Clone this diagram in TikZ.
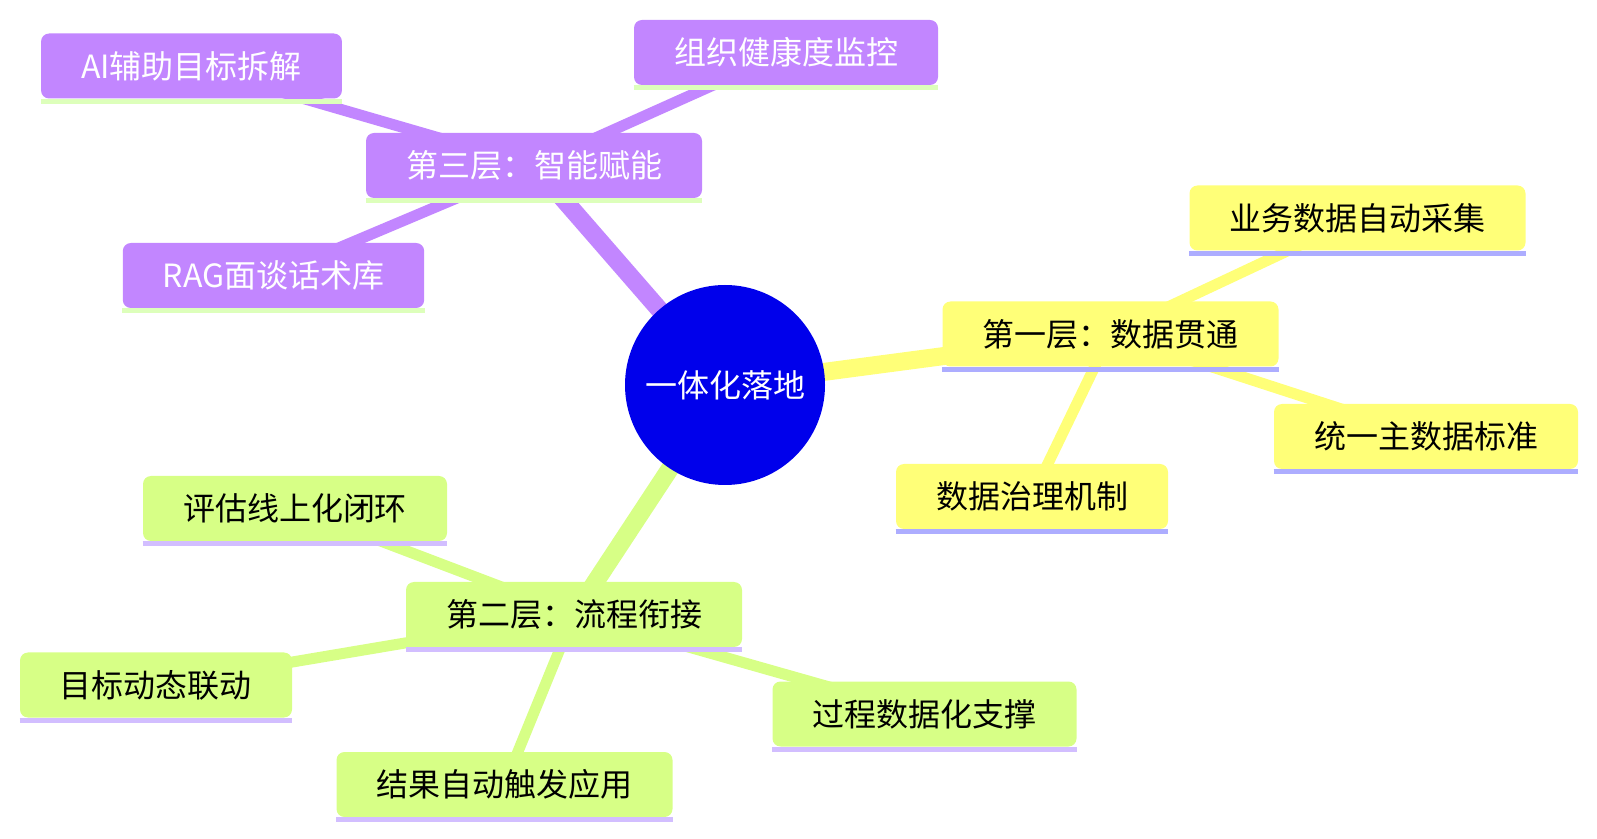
\documentclass[tikz,border=0pt]{standalone}
\usepackage{fontspec}
\newfontfamily\cjk{Noto Sans CJK SC}
\usepackage{xcolor}
\usetikzlibrary{backgrounds}

\definecolor{rootblue}{HTML}{0000EB}
\definecolor{secyellow}{HTML}{FFFF78}
\definecolor{secgreen}{HTML}{D7FF86}
\definecolor{secpurple}{HTML}{C286FF}
\definecolor{ulyellow}{HTML}{ADADFF}
\definecolor{ulgreen}{HTML}{D2BEFF}
\definecolor{ulpurple}{HTML}{DDFFBB}

\begin{document}
\begin{tikzpicture}[
  x=0.5pt, y=-0.5pt,
  root/.style={circle, fill=rootblue, text=white, minimum size=100pt,
    inner sep=0pt, font=\fontsize{16pt}{16pt}\selectfont\cjk},
  topic/.style={rounded corners=4pt, minimum height=32.5pt, inner xsep=20pt,
    inner ysep=0pt, font=\fontsize{16pt}{16pt}\selectfont\cjk},
  purplebox/.style={topic, fill=secpurple, text=white},
  yellowbox/.style={topic, fill=secyellow, text=black},
  greenbox/.style={topic, fill=secgreen, text=black},
  trunk/.style={line width=9pt},
  twig/.style={line width=5.5pt}
]
\useasboundingbox (0,0) rectangle (1597,839);

% centre
\node[root] (core) at (725,385) {一体化落地};

% layer three
\node[purplebox] (l3) at (534,165.5) {第三层：智能赋能};
\node[purplebox] (l3a) at (191.5,66) {AI辅助目标拆解};
\node[purplebox] (l3b) at (786,52.5) {组织健康度监控};
\node[purplebox] (l3c) at (273.5,275.5) {RAG面谈话术库};

% layer one
\node[yellowbox] (l1) at (1110.5,334) {第一层：数据贯通};
\node[yellowbox] (l1a) at (1357.5,218) {业务数据自动采集};
\node[yellowbox] (l1b) at (1426,436.5) {统一主数据标准};
\node[yellowbox] (l1c) at (1032,496.5) {数据治理机制};

% layer two
\node[greenbox] (l2) at (574,614.5) {第二层：流程衔接};
\node[greenbox] (l2a) at (295,508.5) {评估线上化闭环};
\node[greenbox] (l2b) at (156,685) {目标动态联动};
\node[greenbox] (l2c) at (504.5,784.5) {结果自动触发应用};
\node[greenbox] (l2d) at (924.5,714) {过程数据化支撑};

% underlines
\foreach \n/\c in {l3/ulpurple, l3a/ulpurple, l3b/ulpurple, l3c/ulpurple,
    l1/ulyellow, l1a/ulyellow, l1b/ulyellow, l1c/ulyellow,
    l2/ulgreen, l2a/ulgreen, l2b/ulgreen, l2c/ulgreen, l2d/ulgreen}
  \draw[\c, line width=2.5pt] ([yshift=-1.25pt]\n.south west) -- ([yshift=-1.25pt]\n.south east);

% connectors behind the boxes
\begin{scope}[on background layer]
  \draw[trunk, secpurple] (core.center) -- (l3.center);
  \draw[trunk, secyellow] (core.center) -- (l1.center);
  \draw[trunk, secgreen] (core.center) -- (l2.center);
  \foreach \m in {l3a,l3b,l3c}
    \draw[twig, secpurple] (l3.center) -- (\m.center);
  \foreach \m in {l1a,l1b,l1c}
    \draw[twig, secyellow] (l1.center) -- (\m.center);
  \foreach \m in {l2a,l2b,l2c,l2d}
    \draw[twig, secgreen] (l2.center) -- (\m.center);
\end{scope}
\end{tikzpicture}
\end{document}
